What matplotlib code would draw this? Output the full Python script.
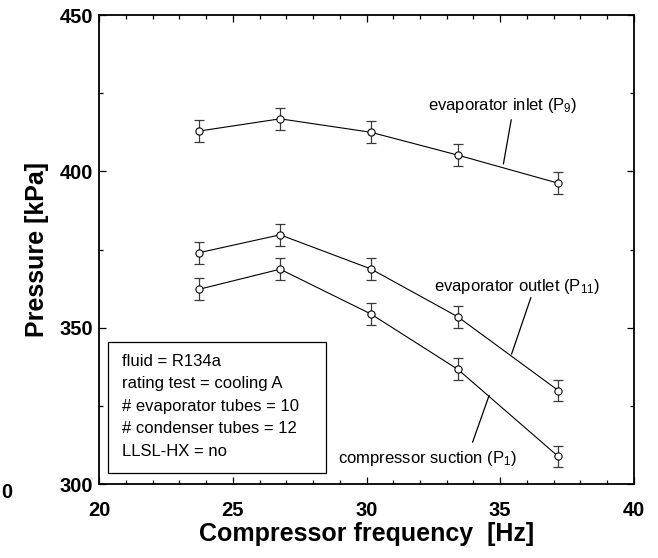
import matplotlib
matplotlib.use("Agg")
import matplotlib.pyplot as plt
from matplotlib.patches import Rectangle

plt.rcParams["font.family"] = ["Liberation Sans", "DejaVu Sans"]
plt.rcParams["mathtext.fontset"] = "custom"
plt.rcParams["mathtext.rm"] = "Liberation Sans"
plt.rcParams["mathtext.it"] = "Liberation Sans:italic"

# data
freq = [23.75, 26.77, 30.16, 33.41, 37.17]
p_evap_in = [412.9, 416.8, 412.5, 405.2, 396.2]
p_evap_out = [374.0, 379.7, 368.8, 353.5, 329.9]
p_suction = [362.3, 368.7, 354.4, 336.7, 308.8]
p_err = 3.5

box_lines = ["fluid = R134a", "rating test = cooling A", "# evaporator tubes = 10",
             "# condenser tubes = 12", "LLSL-HX = no"]

fig = plt.figure(figsize=(6.58, 5.58), dpi=100)
ax = fig.add_axes([0.1505, 0.1326, 0.813, 0.8405])

for p in (p_evap_in, p_evap_out, p_suction):
    ax.errorbar(freq, p, yerr=p_err, fmt="none", ecolor="#3a3a3a", elinewidth=0.9,
                capsize=3.3, capthick=0.9, zorder=2)
    ax.plot(freq, p, "-", color="black", lw=0.8, zorder=3)
    ax.plot(freq, p, "o", ms=5.2, mfc="white", mec="black", mew=0.8, zorder=4)

# labels with leader lines
lbl = dict(fontsize=12, ha="center", va="baseline")
ax.text(35.10, 419.6, "evaporator inlet (P$_9$)", **lbl)
ax.annotate("", xy=(35.10, 401.5), xytext=(35.43, 417.4),
            arrowprops=dict(arrowstyle="-", color="black", lw=0.9))
ax.text(35.61, 361.7, "evaporator outlet (P$_{11}$)", **lbl)
ax.annotate("", xy=(35.39, 340.7), xytext=(36.18, 360.5),
            arrowprops=dict(arrowstyle="-", color="black", lw=0.9))
ax.text(32.28, 306.7, "compressor suction (P$_1$)", **lbl)
ax.annotate("", xy=(34.62, 329.2), xytext=(33.93, 312.5),
            arrowprops=dict(arrowstyle="-", color="black", lw=0.9))

# info box
ax.add_patch(Rectangle((0.0168, 0.0235), 0.4075, 0.2793, transform=ax.transAxes,
                       fill=False, ec="black", lw=0.9, zorder=5))
for i, s in enumerate(box_lines):
    ax.text(0.0436, 0.261 - i * 0.0477, s, transform=ax.transAxes, fontsize=12,
            va="center", ha="left")

ax.set_xlim(20, 40)
ax.set_ylim(300, 450)
ax.set_xticks([20, 25, 30, 35, 40])
ax.set_yticks([300, 350, 400, 450])
ax.set_xticks(range(20, 41), minor=True)
ax.set_yticks([325, 375, 425], minor=True)
ax.tick_params(which="both", direction="in", top=True, right=True, width=0.9)
ax.tick_params(which="major", length=5, labelsize=14.5)
ax.tick_params(which="minor", length=3)
ax.tick_params(axis="x", which="major", pad=12)
ax.tick_params(axis="y", which="major", pad=4)
for t in ax.get_xticklabels() + ax.get_yticklabels():
    t.set_fontweight("bold")
for s in ax.spines.values():
    s.set_linewidth(1.3)

ax.set_xlabel("Compressor frequency  [Hz]", fontsize=18, fontweight="bold", labelpad=2)
ax.set_ylabel("Pressure [kPa]", fontsize=18, fontweight="bold", labelpad=8)

# leftover tick label at the far left edge
fig.text(1 / 658, 1 - 492 / 558, "0", fontsize=14.5, fontweight="bold",
         ha="left", va="center")

fig.savefig("out.png", dpi=100)
